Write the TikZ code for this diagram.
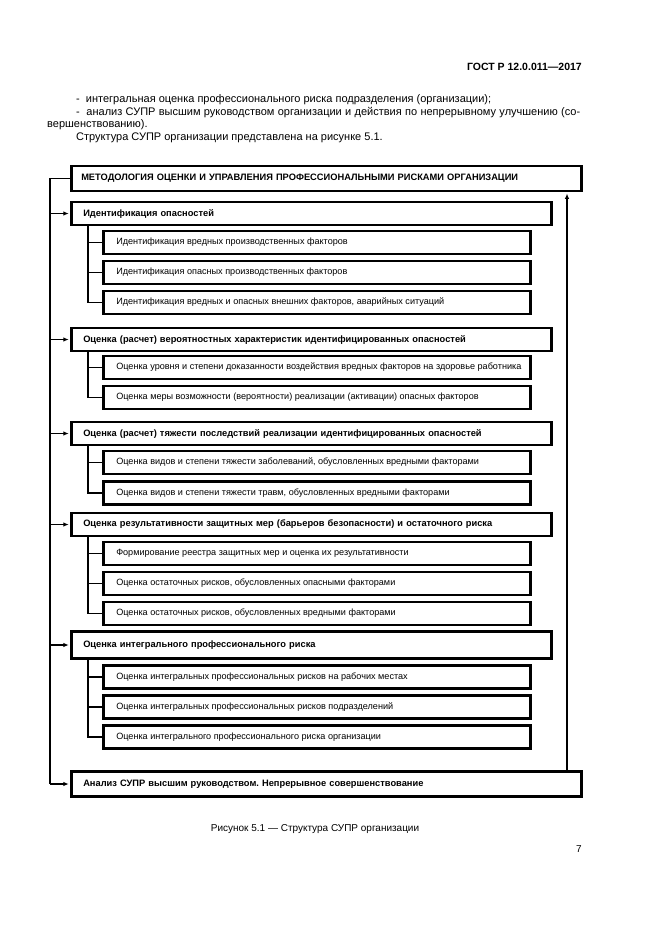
\documentclass[tikz,border=0pt]{standalone}
\usepackage{fontspec}
\setmainfont{Liberation Sans}
\usetikzlibrary{arrows.meta}
\frenchspacing

\tikzset{
  bodytext/.style={anchor=base west, inner sep=0pt, font=\fontsize{11}{13}\selectfont},
  topbox/.style={draw, line width=2.5pt, anchor=west, inner xsep=10pt, text width=490pt, minimum height=25pt, align=left, font=\fontsize{9.3}{11}\selectfont\bfseries},
  mainbox/.style={draw, line width=2.5pt, anchor=west, inner xsep=12pt, text width=456pt, minimum height=23pt, align=left, font=\fontsize{9.3}{11}\selectfont\bfseries},
  subbox/.style={draw, line width=2.5pt, anchor=west, inner xsep=13pt, minimum width=427pt, minimum height=23pt, font=\fontsize{9.1}{11}\selectfont},
  link/.style={line width=1.7pt},
  linkarrow/.style={line width=1.7pt, -{Latex[length=5.5pt,width=4.5pt]}, shorten >=1.2pt}
}
\newcommand{\subtext}[1]{\makebox[401pt][l]{#1}}

\begin{document}
\begin{tikzpicture}[x=1pt,y=-1pt]
\fill[white] (0,0) rectangle (661,935);
\useasboundingbox (0,0) rectangle (661,935);

% Text Node
\node (gost) [anchor=base east, inner sep=0pt, font=\fontsize{10.5}{12}\selectfont\bfseries] at (582,70.5) {ГОСТ Р 12.0.011—2017};
% Text Node
\node (line1) [bodytext] at (76,102.5) {-\ \ интегральная оценка профессионального риска подразделения (организации);};
% Text Node
\node (line2) [bodytext] at (76,115.2) {\makebox[504pt][s]{-\ \ анализ СУПР высшим руководством организации и действия по непрерывному улучшению (со-}};
% Text Node
\node (line3) [bodytext] at (47,127.9) {вершенствованию).};
% Text Node
\node (line4) [bodytext] at (76,140.6) {Структура СУПР организации представлена на рисунке 5.1.};

%Shape: Rectangle
\node (metod) [topbox] at (70,178.5) {МЕТОДОЛОГИЯ ОЦЕНКИ И УПРАВЛЕНИЯ ПРОФЕССИОНАЛЬНЫМИ РИСКАМИ ОРГАНИЗАЦИИ};

%Shape: Rectangle
\node (ident) [mainbox] at (70,213.5) {Идентификация опасностей};
\node (ident1) [subbox] at (102,242.5) {\subtext{Идентификация вредных производственных факторов}};
\node (ident2) [subbox] at (102,272.5) {\subtext{Идентификация опасных производственных факторов}};
\node (ident3) [subbox] at (102,302.5) {\subtext{Идентификация вредных и опасных внешних факторов, аварийных ситуаций}};

%Shape: Rectangle
\node (verojat) [mainbox] at (70,339.5) {Оценка (расчет) вероятностных характеристик идентифицированных опасностей};
\node (verojat1) [subbox] at (102,367.5) {\subtext{Оценка уровня и степени доказанности воздействия вредных факторов на здоровье работника}};
\node (verojat2) [subbox] at (102,397.5) {\subtext{Оценка меры возможности (вероятности) реализации (активации) опасных факторов}};

%Shape: Rectangle
\node (tjazh) [mainbox] at (70,433.5) {Оценка (расчет) тяжести последствий реализации идентифицированных опасностей};
\node (tjazh1) [subbox] at (102,462.5) {\subtext{Оценка видов и степени тяжести заболеваний, обусловленных вредными факторами}};
\node (tjazh2) [subbox] at (102,493) {\subtext{Оценка видов и степени тяжести травм, обусловленных вредными факторами}};

%Shape: Rectangle
\node (rezult) [mainbox] at (70,524.5) {Оценка результативности защитных мер (барьеров безопасности) и остаточного риска};
\node (rezult1) [subbox] at (102,553.5) {\subtext{Формирование реестра защитных мер и оценка их результативности}};
\node (rezult2) [subbox] at (102,583.5) {\subtext{Оценка остаточных рисков, обусловленных опасными факторами}};
\node (rezult3) [subbox] at (102,613.5) {\subtext{Оценка остаточных рисков, обусловленных вредными факторами}};

%Shape: Rectangle
\node (integr) [mainbox, minimum height=27pt] at (70,645) {Оценка интегрального профессионального риска};
\node (integr1) [subbox] at (102,677) {\subtext{Оценка интегральных профессиональных рисков на рабочих местах}};
\node (integr2) [subbox] at (102,707) {\subtext{Оценка интегральных профессиональных рисков подразделений}};
\node (integr3) [subbox] at (102,737) {\subtext{Оценка интегрального профессионального риска организации}};

%Shape: Rectangle
\node (analiz) [topbox, inner xsep=12pt, text width=486pt] at (70,784) {Анализ СУПР высшим руководством. Непрерывное совершенствование};

% Connectors
\coordinate (spine) at (50,0);
\coordinate (branch) at (88,0);
\coordinate (ret) at (567,0);

\draw [link] (metod.west) -- (metod.west -| spine) -- (analiz.west -| spine);
\draw [linkarrow] (analiz.west -| spine) -- (analiz.west);
\draw [linkarrow] (ident.west -| spine) -- (ident.west);
\draw [linkarrow] (verojat.west -| spine) -- (verojat.west);
\draw [linkarrow] (tjazh.west -| spine) -- (tjazh.west);
\draw [linkarrow] (rezult.west -| spine) -- (rezult.west);
\draw [linkarrow] (integr.west -| spine) -- (integr.west);
\draw [linkarrow] (analiz.north -| ret) -- (metod.south -| ret);

\draw [link] (ident.south -| branch) |- (ident3.west);
\draw [link] (ident1.west -| branch) -- (ident1.west);
\draw [link] (ident2.west -| branch) -- (ident2.west);

\draw [link] (verojat.south -| branch) |- (verojat2.west);
\draw [link] (verojat1.west -| branch) -- (verojat1.west);

\draw [link] (tjazh.south -| branch) |- (tjazh2.west);
\draw [link] (tjazh1.west -| branch) -- (tjazh1.west);

\draw [link] (rezult.south -| branch) |- (rezult3.west);
\draw [link] (rezult1.west -| branch) -- (rezult1.west);
\draw [link] (rezult2.west -| branch) -- (rezult2.west);

\draw [link] (integr.south -| branch) |- (integr3.west);
\draw [link] (integr1.west -| branch) -- (integr1.west);
\draw [link] (integr2.west -| branch) -- (integr2.west);

% Text Node
\node (caption) [anchor=base, inner sep=0pt, font=\fontsize{10}{12}\selectfont] at (315,831.5) {Рисунок 5.1 — Структура СУПР организации};
% Text Node
\node (pagenum) [anchor=base east, inner sep=0pt, font=\fontsize{10}{12}\selectfont] at (582,852.5) {7};

\end{tikzpicture}
\end{document}
